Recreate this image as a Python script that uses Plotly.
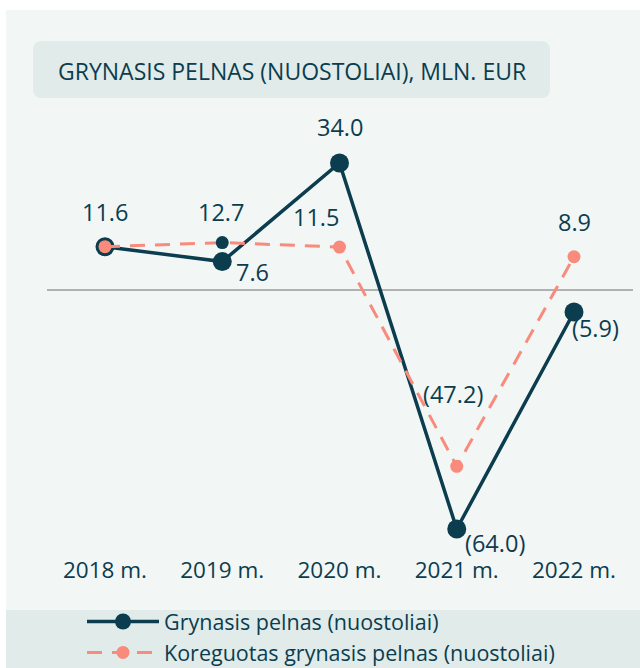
import plotly.graph_objects as go

# ---- data ----
years = ["2018 m.", "2019 m.", "2020 m.", "2021 m.", "2022 m."]
net_profit = [11.6, 7.6, 34.0, -64.0, -5.9]
adj_profit = [11.6, 12.7, 11.5, -47.2, 8.9]
net_labels = ["", "7.6", "34.0", "(64.0)", "(5.9)"]
adj_labels = ["11.6", "12.7", "11.5", "(47.2)", "8.9"]
series_names = ["Grynasis pelnas (nuostoliai)", "Koreguotas grynasis pelnas (nuostoliai)"]
title_text = "GRYNASIS PELNAS (NUOSTOLIAI), MLN. EUR"

# ---- style ----
W, H = 640, 668
DARK = "#0b3d4f"
CORAL = "#f88b7b"
PANEL = "#f2f6f5"
BAND = "#e1ecea"
FONT = "Open Sans"
LABEL_SIZE = 23.5
TICK_SIZE = 22.5
TITLE_SIZE = 23
LEGEND_SIZE = 21.5

# label offsets (px) per point
net_off = [(0, 0), (30, -10), (0, 36), (38, -14), (21, -16)]
adj_off = [(0, 35), (-1, 31), (-24, 30), (-4, 72), (0, 35)]
adj_marker_colors = [CORAL, DARK, CORAL, CORAL, CORAL]

xs = list(range(len(years)))
spacing = 117.25
x0 = -105 / spacing
xr = [x0, x0 + W / spacing]

ppu = 3.735
zero_px = 290
bot_px, top_px = 554, 120
yr = [-(bot_px - zero_px) / ppu, (zero_px - top_px) / ppu]

fig = go.Figure()
fig.add_trace(go.Scatter(
    x=xs, y=net_profit, mode="lines+markers", name=series_names[0],
    line=dict(color=DARK, width=3.5),
    marker=dict(color=DARK, size=19),
))
fig.add_trace(go.Scatter(
    x=xs, y=adj_profit, mode="lines+markers", name=series_names[1],
    line=dict(color=CORAL, width=3, dash="15px,10px"),
    marker=dict(color=adj_marker_colors, size=13),
))

ann = []
for i, (v, t) in enumerate(zip(net_profit, net_labels)):
    if t:
        ann.append(dict(x=xs[i], y=v, text=t, showarrow=False, xref="x", yref="y",
                        xanchor="center", yanchor="middle",
                        xshift=net_off[i][0], yshift=net_off[i][1],
                        font=dict(size=LABEL_SIZE, color=DARK, family=FONT)))
for i, (v, t) in enumerate(zip(adj_profit, adj_labels)):
    if t:
        ann.append(dict(x=xs[i], y=v, text=t, showarrow=False, xref="x", yref="y",
                        xanchor="center", yanchor="middle",
                        xshift=adj_off[i][0], yshift=adj_off[i][1],
                        font=dict(size=LABEL_SIZE, color=DARK, family=FONT)))


def px_x(p):
    return p / W


def px_y(p):
    return 1 - p / H


ann.append(dict(x=px_x(292), y=px_y(71), xref="paper", yref="paper", text=title_text,
                xanchor="center", yanchor="middle",
                showarrow=False, font=dict(size=TITLE_SIZE, color=DARK, family=FONT)))

r = 9
bx0, bx1, by0, by1 = 33, 550, 41, 98
path = (f"M {px_x(bx0 + r)},{px_y(by0)} L {px_x(bx1 - r)},{px_y(by0)} "
        f"Q {px_x(bx1)},{px_y(by0)} {px_x(bx1)},{px_y(by0 + r)} "
        f"L {px_x(bx1)},{px_y(by1 - r)} Q {px_x(bx1)},{px_y(by1)} {px_x(bx1 - r)},{px_y(by1)} "
        f"L {px_x(bx0 + r)},{px_y(by1)} Q {px_x(bx0)},{px_y(by1)} {px_x(bx0)},{px_y(by1 - r)} "
        f"L {px_x(bx0)},{px_y(by0 + r)} Q {px_x(bx0)},{px_y(by0)} {px_x(bx0 + r)},{px_y(by0)} Z")

shapes = [
    dict(type="rect", xref="paper", yref="paper", x0=px_x(6), x1=1, y0=0, y1=px_y(10),
         fillcolor=PANEL, line=dict(width=0), layer="below"),
    dict(type="rect", xref="paper", yref="paper", x0=px_x(6), x1=1, y0=0, y1=px_y(610),
         fillcolor=BAND, line=dict(width=0), layer="below"),
    dict(type="path", xref="paper", yref="paper", path=path,
         fillcolor=BAND, line=dict(width=0), layer="below"),
    dict(type="line", xref="paper", yref="y", x0=px_x(47), x1=px_x(633), y0=0, y1=0,
         line=dict(color="#9a9a9a", width=1.5), layer="below"),
]

fig.update_layout(
    width=W, height=H,
    margin=dict(l=0, r=0, t=0, b=0, autoexpand=False),
    paper_bgcolor="white", plot_bgcolor="rgba(0,0,0,0)",
    font=dict(family=FONT, color=DARK),
    showlegend=True,
    legend=dict(x=px_x(82), y=px_y(601), xanchor="left", yanchor="top",
                bgcolor="rgba(0,0,0,0)", font=dict(size=LEGEND_SIZE, color=DARK, family=FONT),
                itemwidth=72, tracegroupgap=0),
    xaxis=dict(range=xr, domain=[0, 1], tickmode="array", tickvals=xs, ticktext=years,
               showgrid=False, zeroline=False, showline=False, ticks="",
               tickfont=dict(size=TICK_SIZE, color=DARK, family=FONT), fixedrange=True),
    yaxis=dict(range=yr, domain=[px_y(bot_px), px_y(top_px)], showgrid=False,
               zeroline=False, showline=False, showticklabels=False, ticks="", fixedrange=True),
    annotations=ann,
    shapes=shapes,
)

fig.write_html("out.html", config={"displayModeBar": False},
               post_script="document.body.style.margin='0';document.body.style.overflow='hidden';")
